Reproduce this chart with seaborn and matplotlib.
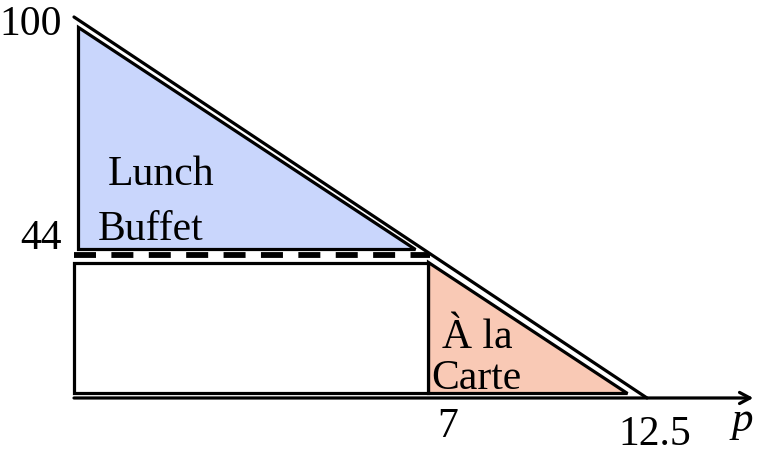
import matplotlib.pyplot as plt
import seaborn as sns
import pandas as pd

# demand curve (price p, quantity q)
demand_p = [0, 12.5]
demand_q = [100, 0]
kink_p, kink_q = 7.72, 37.5

# shaded regions (vertices)
buffet_p = [0.09, 0.09, 7.44]
buffet_q = [97.4, 39.1, 39.1]
carte_p = [7.72, 7.72, 12.06]
carte_q = [35.7, 1.3, 1.3]
rect_p = [0, 7.72, 7.72, 0]
rect_q = [1.3, 1.3, 35.4, 35.4]

x_tick_pos = [8.16, 12.68]
x_tick_y = [-2.5, -4.6]
x_tick_labels = ['7', '12.5']
y_tick_pos = [98, 41.8]
y_tick_labels = ['100', '44']

sns.set_style('white')
plt.rcParams['font.family'] = ['Liberation Serif', 'DejaVu Serif']

fig = plt.figure(figsize=(7.57, 4.53), dpi=100)
ax = fig.add_axes([0, 0, 1, 1])

lw = 2.3
ax.fill(buffet_p, buffet_q, facecolor='#c9d6fc', edgecolor='black', linewidth=lw, joinstyle='miter')
ax.fill(carte_p, carte_q, facecolor='#f9c9b5', edgecolor='black', linewidth=lw, joinstyle='miter')
ax.fill(rect_p, rect_q, facecolor='white', edgecolor='black', linewidth=lw, joinstyle='miter')

df = pd.DataFrame({'p': demand_p, 'q': demand_q})
sns.lineplot(data=df, x='p', y='q', color='black', linewidth=lw, ax=ax, sort=False)

dash = pd.DataFrame({'p': [0, kink_p + 0.05], 'q': [kink_q, kink_q]})
sns.lineplot(data=dash, x='p', y='q', color='black', linewidth=4.2, ax=ax,
             linestyle=(0, (3.77, 2.64)))

# p axis with arrow
ax.annotate('', xy=(14.82, 0), xytext=(0, 0), annotation_clip=False,
            arrowprops=dict(arrowstyle='->,head_length=0.75,head_width=0.4',
                            color='black', lw=lw, shrinkA=0, shrinkB=0))
ax.text(14.58, -1.0, 'p', fontsize=31, style='italic', ha='center', va='top', color='black')

fs = 30
for pos, yy, lab in zip(x_tick_pos, x_tick_y, x_tick_labels):
    ax.text(pos, yy, lab, fontsize=fs, ha='center', va='top', color='black')
for pos, lab in zip(y_tick_pos, y_tick_labels):
    ax.text(-0.27, pos, lab, fontsize=fs, ha='right', va='center', color='black')

ax.text(0.74, 56, 'Lunch', fontsize=fs, ha='left', va='baseline', color='black')
ax.text(0.52, 41.5, 'Buffet', fontsize=fs, ha='left', va='baseline', color='black')
ax.text(8.03, 13.1, 'À la', fontsize=fs, ha='left', va='baseline', color='black')
ax.text(7.8, 2.4, 'Carte', fontsize=fs, ha='left', va='baseline', color='black')

ax.set_xlim(-1.614, 14.9)
ax.set_ylim(-14.44, 104.46)
ax.axis('off')

fig.savefig('out.png', dpi=100)
